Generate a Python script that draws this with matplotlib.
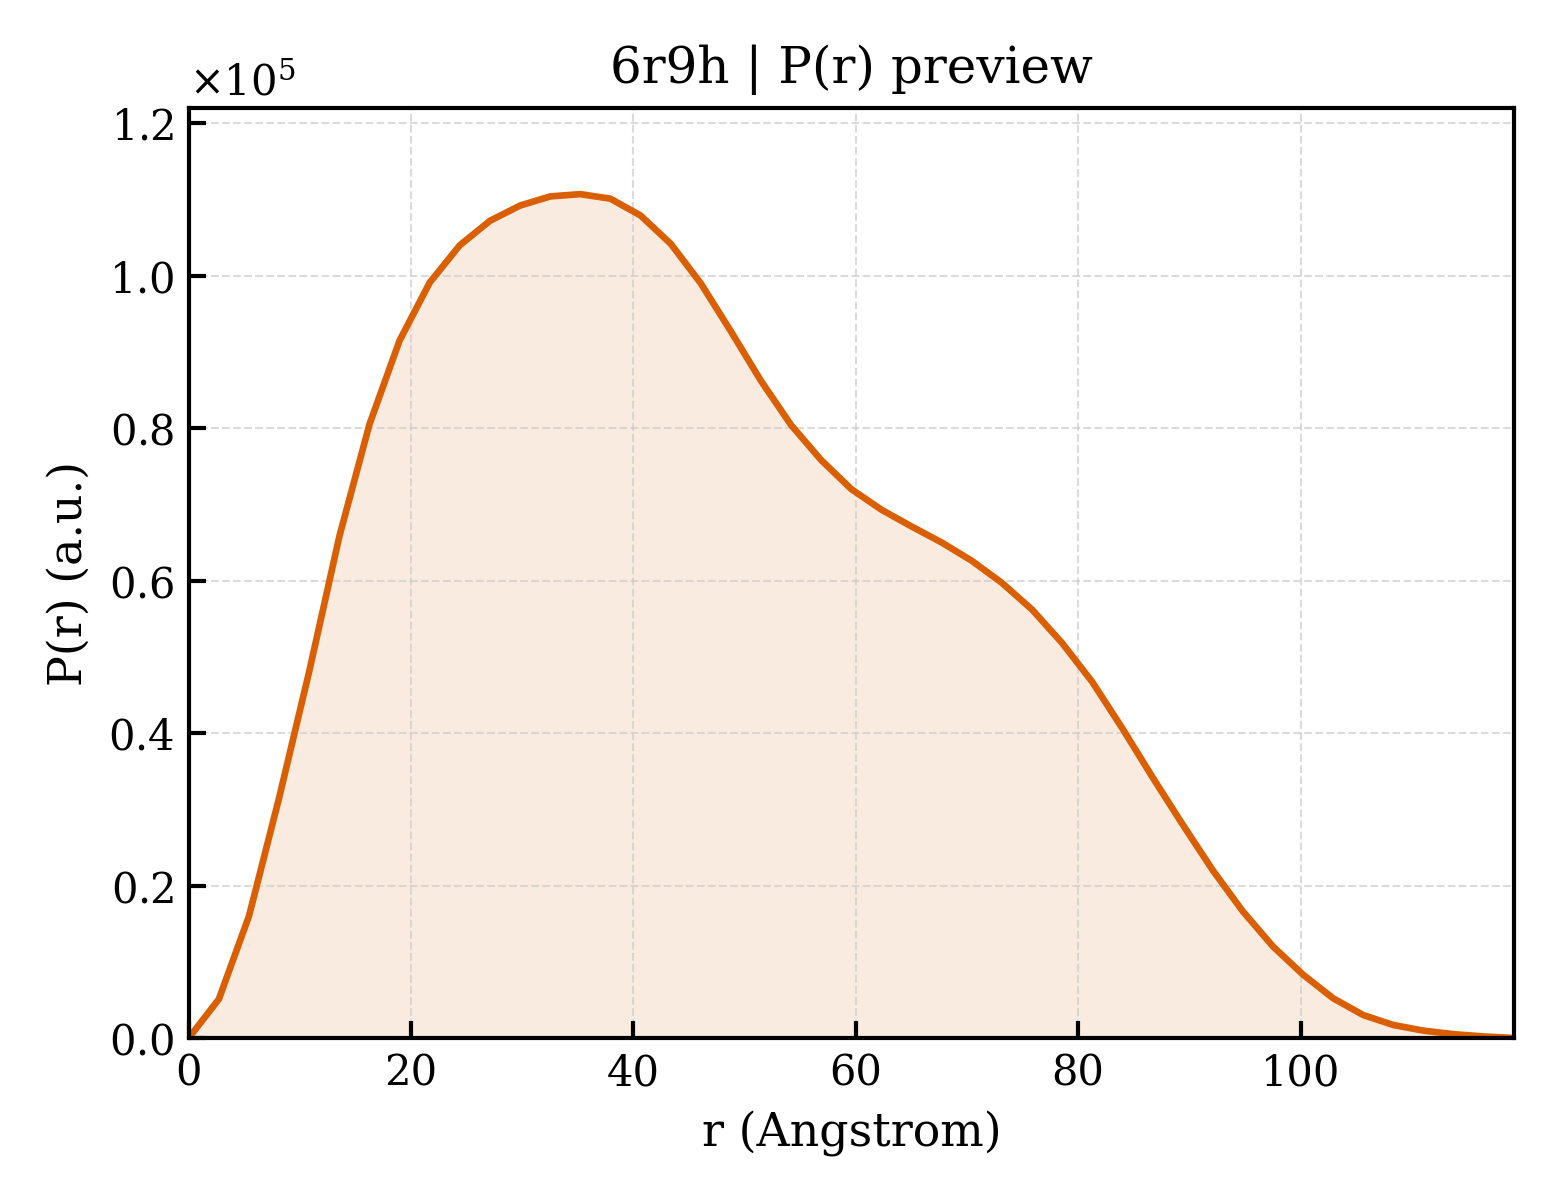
import numpy as np
import matplotlib
matplotlib.use("Agg")
import matplotlib.pyplot as plt
from matplotlib.ticker import ScalarFormatter

plt.rcParams["font.family"] = "DejaVu Serif"
plt.rcParams["mathtext.fontset"] = "dejavuserif"

dmax = 119.2
r = np.linspace(0, dmax, 45)
pr = np.array([
    0.0, 0.051, 0.160, 0.315, 0.481, 0.658, 0.805, 0.915, 0.991, 1.040,
    1.072, 1.092, 1.104, 1.107, 1.101, 1.079, 1.042, 0.990, 0.927, 0.862,
    0.804, 0.758, 0.720, 0.693, 0.671, 0.650, 0.626, 0.597, 0.562, 0.518,
    0.467, 0.406, 0.342, 0.280, 0.220, 0.166, 0.120, 0.083, 0.052, 0.030,
    0.017, 0.0096, 0.005, 0.002, 0.0,
]) * 1e5

color = "#d95f02"

fig, ax = plt.subplots(figsize=(5.2, 4), dpi=300)
fig.subplots_adjust(left=0.121, right=0.9705, top=0.91, bottom=0.135)

ax.fill_between(r, pr, 0, color=color, alpha=0.12, lw=0)
ax.plot(r, pr, color=color, lw=1.6)

ax.set_xlim(0, dmax)
ax.set_ylim(0, 1.22e5)
ax.set_yticks(np.arange(0, 1.21e5, 0.2e5))

fmt = ScalarFormatter(useMathText=True)
fmt.set_powerlimits((0, 0))
ax.yaxis.set_major_formatter(fmt)

ax.grid(True, ls="--", lw=0.5, color="#cccccc", alpha=0.7)
ax.tick_params(direction="in", length=4, width=1, labelsize=10)
for s in ax.spines.values():
    s.set_linewidth(1.0)

ax.set_xlabel("r (Angstrom)", fontsize=11)
ax.set_ylabel("P(r) (a.u.)", fontsize=11)
ax.set_title("6r9h | P(r) preview", fontsize=12)

fig.savefig("out.png", dpi=300)
